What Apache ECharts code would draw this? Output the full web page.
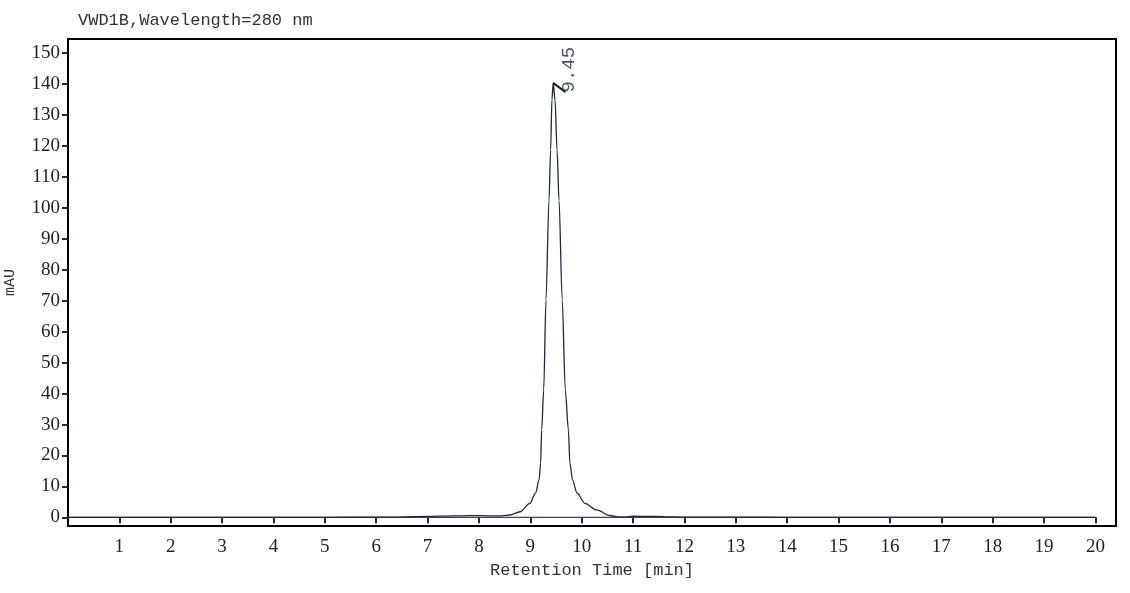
<!DOCTYPE html>
<html>
<head>
<meta charset="utf-8">
<script src="https://cdn.jsdelivr.net/npm/echarts@6/dist/echarts.min.js"></script>
<style>
  html, body { margin: 0; padding: 0; background: #fff; }
  #chart { width: 1130px; height: 593px; }
</style>
</head>
<body>
<div id="chart"></div>
<script>
// 色谱图数据
var times = [0, 1, 2, 3, 4, 5, 6, 6.4, 7, 7.5, 7.8, 8.2, 8.45, 8.6, 8.8, 8.99, 9.1, 9.17, 9.2, 9.22, 9.26,
  9.304, 9.363, 9.395, 9.42, 9.445, 9.48, 9.52, 9.558, 9.62, 9.68, 9.74, 9.77, 9.82, 9.91, 10.06,
  10.29, 10.55, 10.7, 10.85, 11.0, 11.3, 11.6, 12.0, 13, 14, 20];
var signal = [0, 0, 0, 0, 0, 0, 0.05, 0.1, 0.3, 0.45, 0.55, 0.5, 0.5, 0.75, 1.8, 4.5, 7.8, 12.1, 17.5, 28.3, 41.2,
  70.3, 102.5, 118.8, 135, 140.5, 135, 118.8, 102.5, 70.3, 41.2, 28.3, 17.5, 12.1, 7.8, 4.5,
  2.4, 0.6, 0.15, 0.1, 0.35, 0.3, 0.25, 0.1, 0.05, 0, 0];
var baseTimes = [0, 20];
var baseValues = [0, 0];
var xTicks = [1, 2, 3, 4, 5, 6, 7, 8, 9, 10, 11, 12, 13, 14, 15, 16, 17, 18, 19, 20];
var yTicks = [0, 10, 20, 30, 40, 50, 60, 70, 80, 90, 100, 110, 120, 130, 140, 150];
var peakTime = 9.45;
var peakHeight = 140.5;

var lineColor = '#1c2a3a';
var serif = '"Liberation Serif", "DejaVu Serif", serif';
var mono = '"Liberation Mono", "DejaVu Sans Mono", monospace';

var chart = echarts.init(document.getElementById('chart'));

chart.setOption({
  animation: false,
  title: {
    text: 'VWD1B,Wavelength=280 nm',
    left: 73,
    top: 7,
    textStyle: { fontFamily: mono, fontSize: 17, fontWeight: 'normal', color: '#333' }
  },
  grid: {
    left: 68, right: 14, top: 39, bottom: 67,
    outerBoundsMode: 'none',
    containLabel: false,
    show: true, borderColor: '#000', borderWidth: 2
  },
  xAxis: {
    type: 'value',
    min: 0,
    max: 20.4,
    name: 'Retention Time [min]',
    nameLocation: 'middle',
    nameGap: 35,
    nameTextStyle: { fontFamily: mono, fontSize: 17, color: '#333' },
    axisLine: { show: false },
    splitLine: { show: false },
    axisTick: { show: true, length: 6, customValues: xTicks, lineStyle: { color: lineColor, width: 2 } },
    axisLabel: { customValues: xTicks, margin: 12, fontFamily: serif, fontSize: 19, color: '#222' }
  },
  yAxis: {
    type: 'value',
    min: -2.8,
    max: 154.6,
    name: 'mAU',
    nameLocation: 'middle',
    nameRotate: 90,
    nameGap: 50,
    nameTextStyle: { fontFamily: mono, fontSize: 15, color: '#333' },
    axisLine: { show: false },
    splitLine: { show: false },
    axisTick: { show: true, length: 6, customValues: yTicks, lineStyle: { color: lineColor, width: 2 } },
    axisLabel: { customValues: yTicks, margin: 8, fontFamily: serif, fontSize: 19, color: '#222' }
  },
  series: [
    {
      name: 'baseline',
      type: 'line',
      data: baseTimes.map(function (t, i) { return [t, baseValues[i]]; }),
      symbol: 'none',
      lineStyle: { color: '#3a4654', width: 1.2 },
      z: 1
    },
    {
      name: 'VWD1B',
      type: 'line',
      data: times.map(function (t, i) { return [t, signal[i]]; }),
      symbol: 'none',
      smooth: 0.3,
      smoothMonotone: 'x',
      lineStyle: { color: lineColor, width: 1.3 },
      z: 2,
      markPoint: {
        silent: true,
        data: [{
          coord: [peakTime, peakHeight],
          symbol: 'path://M0,0L12,9',
          symbolSize: [12, 9],
          symbolOffset: [6, 5],
          itemStyle: { color: 'none', borderColor: '#111', borderWidth: 2 },
          label: {
            show: true,
            formatter: peakTime.toFixed(2),
            rotate: 90,
            offset: [18, 9],
            fontFamily: mono,
            fontSize: 19,
            color: '#4a5866'
          }
        }]
      }
    }
  ]
});
</script>
</body>
</html>
